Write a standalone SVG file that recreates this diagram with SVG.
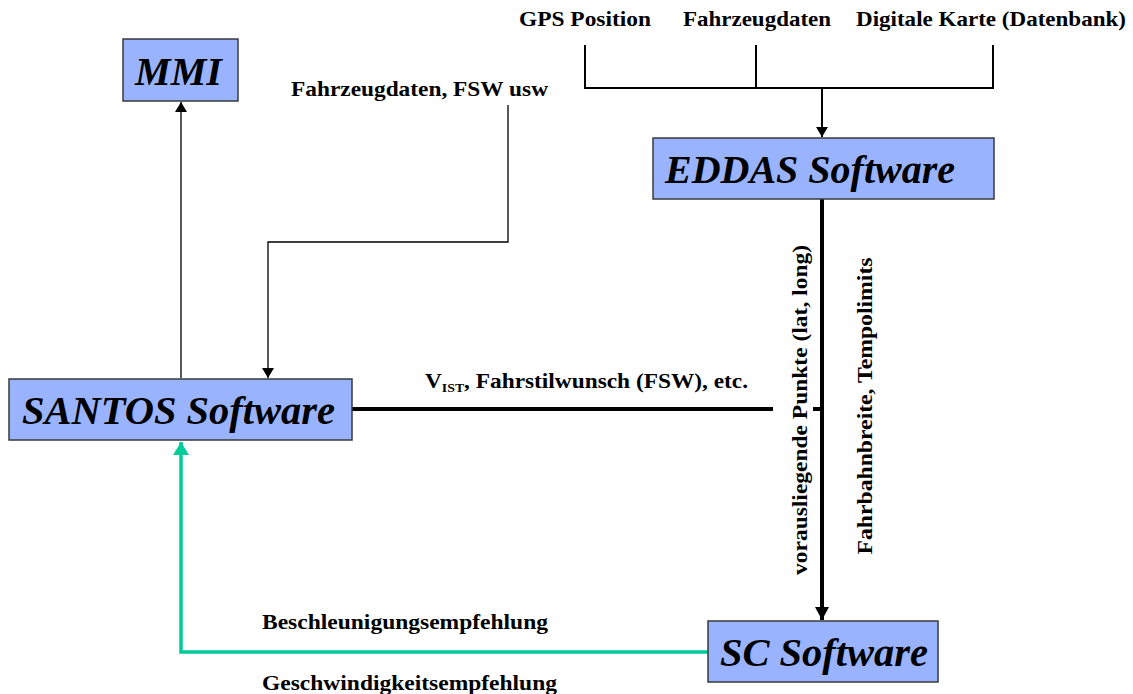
<svg xmlns="http://www.w3.org/2000/svg" width="1133" height="694" viewBox="0 0 1133 694">
<style>
.box{fill:#99b3ff;stroke:#3a3a3a;stroke-width:1.5}
.bl{font-family:"Liberation Serif",serif;font-weight:bold;font-style:italic;font-size:41px;fill:#000}
.lb{font-family:"Liberation Serif",serif;font-weight:bold;font-size:22px;fill:#000}
.thin{fill:none;stroke:#000;stroke-width:1.3}
.mid{fill:none;stroke:#000;stroke-width:2}
.thick{fill:none;stroke:#000;stroke-width:4}
.green{fill:none;stroke:#00cc99;stroke-width:3.5}
</style>
<defs>
<marker id="ah" markerUnits="userSpaceOnUse" markerWidth="10" markerHeight="12" viewBox="0 0 10 12" refX="10" refY="6" orient="auto"><path d="M0,0 L10,6 L0,12 z" fill="#000"/></marker>
<marker id="ahb" markerUnits="userSpaceOnUse" markerWidth="13" markerHeight="14" viewBox="0 0 13 14" refX="13" refY="7" orient="auto"><path d="M0,0 L13,7 L0,14 z" fill="#000"/></marker>
<marker id="ahg" markerUnits="userSpaceOnUse" markerWidth="13" markerHeight="16" viewBox="0 0 13 16" refX="13" refY="8" orient="auto"><path d="M0,0 L13,8 L0,16 z" fill="#00cc99"/></marker>
</defs>
<g id="connectors">
<path class="mid" d="M585,45 V88 H993 V45 M756,45 V88"/>
<path class="mid" d="M822,88 V137" marker-end="url(#ah)"/>
<path class="thick" d="M822,199 V620" marker-end="url(#ahb)"/>
<path class="thick" d="M352,409 H773 M813,409 H822"/>
<path class="thin" d="M181,378 V102" marker-end="url(#ah)"/>
<path class="thin" d="M508,105 V242 H268 V378" marker-end="url(#ah)"/>
<path class="green" d="M708,652 H181 V442" marker-end="url(#ahg)"/>
</g>
<g id="mmi"><rect class="box" x="123" y="39" width="115" height="62"/><text class="bl" x="135" y="85" textLength="87" lengthAdjust="spacingAndGlyphs">MMI</text></g>
<g id="eddas"><rect class="box" x="653" y="138" width="341" height="61"/><text class="bl" x="665" y="183" textLength="290" lengthAdjust="spacingAndGlyphs">EDDAS Software</text></g>
<g id="santos"><rect class="box" x="9" y="379" width="343" height="61"/><text class="bl" x="22" y="424" textLength="313" lengthAdjust="spacingAndGlyphs">SANTOS Software</text></g>
<g id="sc"><rect class="box" x="708" y="621" width="230" height="61"/><text class="bl" x="720" y="666" textLength="208" lengthAdjust="spacingAndGlyphs">SC Software</text></g>
<g id="labels">
<text class="lb" x="519" y="26" textLength="132" lengthAdjust="spacingAndGlyphs">GPS Position</text>
<text class="lb" x="683" y="26" textLength="148" lengthAdjust="spacingAndGlyphs">Fahrzeugdaten</text>
<text class="lb" x="856" y="26" textLength="270" lengthAdjust="spacingAndGlyphs">Digitale Karte (Datenbank)</text>
<text class="lb" x="291" y="96" textLength="257" lengthAdjust="spacingAndGlyphs">Fahrzeugdaten, FSW usw</text>
<text class="lb" x="425" y="388" textLength="323" lengthAdjust="spacingAndGlyphs">V<tspan font-size="13" dy="4">IST</tspan><tspan dy="-4">, Fahrstilwunsch (FSW), etc.</tspan></text>
<text class="lb" transform="translate(807,410) rotate(-90)" text-anchor="middle" textLength="330" lengthAdjust="spacingAndGlyphs">vorausliegende Punkte (lat, long)</text>
<text class="lb" transform="translate(872,406) rotate(-90)" text-anchor="middle" textLength="297" lengthAdjust="spacingAndGlyphs">Fahrbahnbreite, Tempolimits</text>
<text class="lb" x="262" y="629" textLength="286" lengthAdjust="spacingAndGlyphs">Beschleunigungsempfehlung</text>
<text class="lb" x="262" y="690" textLength="295" lengthAdjust="spacingAndGlyphs">Geschwindigkeitsempfehlung</text>
</g>
</svg>
